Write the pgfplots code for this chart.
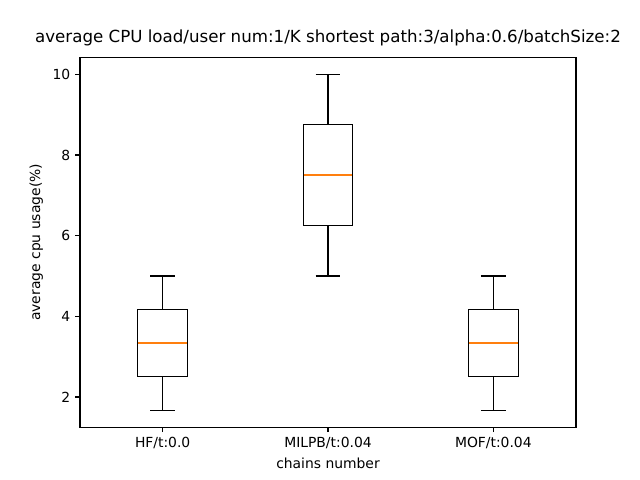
\documentclass[border=0pt]{standalone}
\usepackage{fontspec}
\setmainfont{DejaVu Sans}
\usepackage{pgfplots}
\usepgfplotslibrary{statistics}
\pgfplotsset{compat=1.18}
\definecolor{mplorange}{RGB}{255,127,14}
\begin{document}
\begin{tikzpicture}
\useasboundingbox (0,0) rectangle (460.8pt,345.6pt);
\begin{axis}[
  at={(57.6pt,38.016pt)}, anchor=south west,
  scale only axis, width=357.12pt, height=266.112pt,
  xmin=0.5, xmax=3.5, ymin=1.25, ymax=10.4167,
  xtick={1,2,3}, xticklabels={HF/t:0.0, MILPB/t:0.04, MOF/t:0.04},
  ytick={2,4,6,8,10},
  tick align=outside, major tick length=3.5pt,
  tick style={black, line width=0.8pt},
  xtick pos=bottom, ytick pos=left,
  axis line style={line width=0.8pt},
  /pgf/number format/assume math mode=true,
  tick label style={font=\fontsize{10}{12}\selectfont},
  label style={font=\fontsize{10}{12}\selectfont},
  xlabel={chains number}, ylabel={average cpu usage(\%)},
  title={average CPU load/user num:1/K shortest path:3/alpha:0.6/batchSize:2},
  title style={font=\fontsize{12}{14}\selectfont, yshift=-1pt},
]
% boxes (the median is drawn separately in orange below)
\addplot[draw=black, line width=0.75pt, boxplot/draw direction=y, boxplot prepared={
  lower whisker=1.6667, lower quartile=2.5, median=2.5,
  upper quartile=4.1667, upper whisker=5,
  draw position=1, box extend=0.3, whisker extend=0.15}] coordinates {};
\addplot[draw=black, line width=0.75pt, boxplot/draw direction=y, boxplot prepared={
  lower whisker=5, lower quartile=6.25, median=6.25,
  upper quartile=8.75, upper whisker=10,
  draw position=2, box extend=0.3, whisker extend=0.15}] coordinates {};
\addplot[draw=black, line width=0.75pt, boxplot/draw direction=y, boxplot prepared={
  lower whisker=1.6667, lower quartile=2.5, median=2.5,
  upper quartile=4.1667, upper whisker=5,
  draw position=3, box extend=0.3, whisker extend=0.15}] coordinates {};
% medians
\addplot[draw=mplorange, line width=1.2pt, no markers, forget plot] coordinates {(0.852,3.3333) (1.148,3.3333)};
\addplot[draw=mplorange, line width=1.2pt, no markers, forget plot] coordinates {(1.852,7.5) (2.148,7.5)};
\addplot[draw=mplorange, line width=1.2pt, no markers, forget plot] coordinates {(2.852,3.3333) (3.148,3.3333)};
\end{axis}
\end{tikzpicture}
\end{document}
